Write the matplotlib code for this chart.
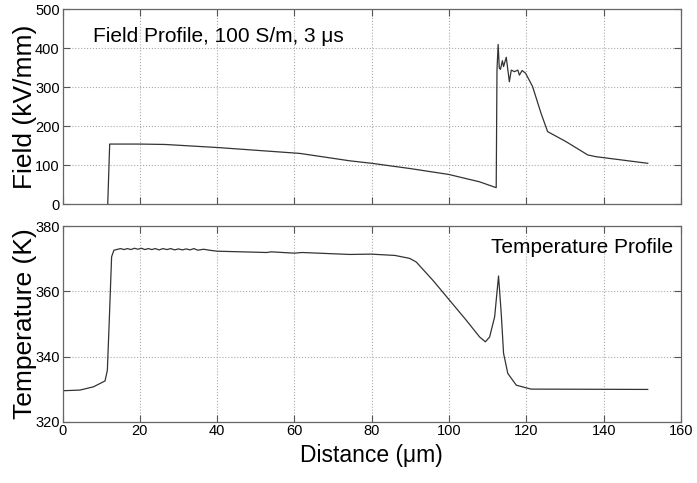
import matplotlib
matplotlib.use("Agg")
import matplotlib.pyplot as plt

plt.rcParams['font.family'] = ['Liberation Sans', 'DejaVu Sans']

# field profile
field_x = [11.7, 12.2, 20.0, 26.5, 40.3, 61.4, 74.3, 80.0, 90.0, 99.9, 107.9, 112.2,
           112.4, 112.7, 113.0, 113.3, 113.8, 114.1, 114.8, 115.6, 116.1, 116.9,
           117.8, 118.2, 118.9, 119.8, 121.6, 123.8, 125.5, 130.3, 135.9, 138.0, 151.4]
field = [0, 154, 154, 153, 145, 130, 111, 104.6, 91, 76, 57, 42,
         344, 410, 349, 346, 368, 353, 377, 314, 344, 340,
         344, 331, 343, 336, 302, 233, 186, 160, 126, 121.6, 104.6]

# temperature profile
temp_x = [0, 4.5, 8, 11, 11.6, 12.1, 12.7, 13.3, 15.0, 15.9, 16.8, 17.7, 18.6, 19.5,
          20.4, 21.3, 22.2, 23.1, 24.0, 25.0, 26.0, 27.0, 28.0, 29.0, 30.0, 31.0,
          32.0, 33.0, 34.0, 35.0, 36.5, 38.0, 40.0, 52.8, 54.0, 60.0, 62.0, 74.3,
          79.8, 86.0, 89.8, 91.5, 95.8, 100.1, 104.4, 107.9, 109.4, 110.5, 111.8,
          112.8, 113.5, 114.1, 115.2, 117.4, 121.2, 151.4]
temp = [329.5, 329.7, 330.7, 332.5, 335.8, 351.2, 370.6, 372.6, 373.1, 372.8, 373.1,
        372.8, 373.2, 372.9, 373.2, 372.8, 373.1, 372.8, 373.1, 372.7, 373.1, 372.8,
        373.1, 372.7, 373.0, 372.7, 373.0, 372.7, 373.1, 372.6, 372.9, 372.6, 372.3,
        371.9, 372.1, 371.7, 371.9, 371.3, 371.4, 371.0, 370.1, 369.0, 363.4, 357.3,
        351.2, 346.0, 344.5, 346.0, 352.2, 364.7, 353.2, 341.0, 334.8, 331.2, 330.0,
        329.9]

xticks = [0, 20, 40, 60, 80, 100, 120, 140, 160]
field_ticks = [0, 100, 200, 300, 400, 500]
temp_ticks = [320, 340, 360, 380]

fig = plt.figure(figsize=(6.97, 4.83), dpi=100)
ax1 = fig.add_axes([0.0897, 0.5776, 0.8873, 0.403])
ax2 = fig.add_axes([0.0897, 0.1269, 0.8873, 0.405])

line_kw = dict(color="#333333", lw=0.9)
ax1.plot(field_x, field, **line_kw)
ax2.plot(temp_x, temp, **line_kw)

for ax, yt in ((ax1, field_ticks), (ax2, temp_ticks)):
    ax.set_xlim(0, 160)
    ax.set_xticks(xticks)
    ax.set_yticks(yt)
    ax.set_ylim(yt[0], yt[-1])
    ax.grid(True, linestyle=":", color="#aaaaaa", lw=0.8)
    ax.tick_params(direction="in", top=True, right=True, length=5,
                   labelsize=10.5, pad=2, color="#555555")
    for sp in ax.spines.values():
        sp.set_color("#666666")
        sp.set_linewidth(0.9)

ax1.set_xticklabels([])
ax1.set_ylabel("Field (kV/mm)", fontsize=19)
ax2.set_ylabel("Temperature (K)", fontsize=19)
ax1.yaxis.set_label_coords(-0.041, 0.5)
ax2.yaxis.set_label_coords(-0.041, 0.5)
ax2.set_xlabel("Distance (\u03bcm)", fontsize=16.5, labelpad=4)

ax1.text(0.05, 0.86, "Field Profile, 100 S/m, 3 \u03bcs", transform=ax1.transAxes,
         fontsize=15, ha="left", va="center")
ax2.text(0.987, 0.893, "Temperature Profile", transform=ax2.transAxes,
         fontsize=15, ha="right", va="center")

fig.savefig("out.png", dpi=100)
